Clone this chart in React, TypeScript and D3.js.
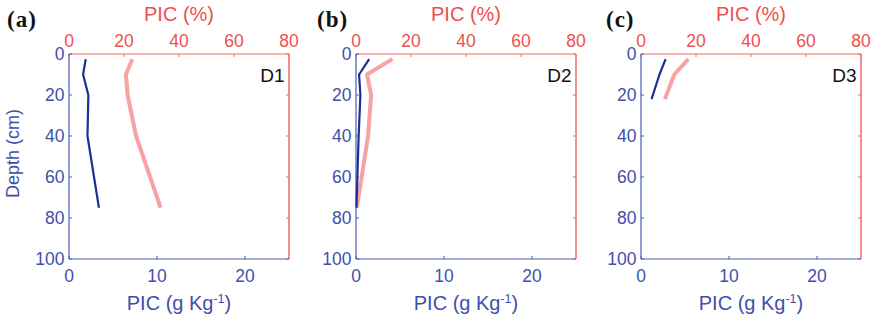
import React from "react";
import * as d3 from "d3";

const panelLabels = ["(a)", "(b)", "(c)"];
const siteLabels = ["D1", "D2", "D3"];

// depth (cm)
const depthsD1 = [2.5, 10, 20, 40, 75];
const depthsD2 = [2.5, 10, 20, 40, 75];
const depthsD3 = [2.5, 10, 22];

// PIC (g Kg-1) — bottom axis
const picGkgD1 = [1.9, 1.6, 2.2, 2.1, 3.4];
const picGkgD2 = [1.5, 0.35, 0.5, 0.3, 0.05];
const picGkgD3 = [2.8, 2.1, 1.2];

// PIC (%) — top axis
const picPctD1 = [23.0, 20.7, 21.3, 24.4, 33.3];
const picPctD2 = [13.2, 4.0, 5.5, 4.4, 0.3];
const picPctD3 = [17.2, 12.1, 8.7];

const bottomTicks = [0, 10, 20];
const topTicks = [0, 20, 40, 60, 80];
const depthTicks = [0, 20, 40, 60, 80, 100];

const panels = [
  { depth: depthsD1, gkg: picGkgD1, pct: picPctD1 },
  { depth: depthsD2, gkg: picGkgD2, pct: picPctD2 },
  { depth: depthsD3, gkg: picGkgD3, pct: picPctD3 },
];

const W = 874;
const H = 320;
const panelLeft = [69, 356, 641];
const labelLeft = [7, 317, 606];
const panelW = 220;
const top = 54;
const bottom = 259;

const BLUE_AXIS = "#4a5cb4";
const BLUE_TEXT = "#3f50ac";
const RED_AXIS = "#f26a6a";
const RED_TEXT = "#ee5050";
const BLUE_LINE = "#1c2f94";
const PINK_LINE = "#f6a3a3";
const FONT = "Liberation Sans, Arial, sans-serif";

export default function App() {
  const y = d3.scaleLinear().domain([0, 100]).range([top, bottom]);
  return (
    <svg width={W} height={H} style={{ position: "absolute", left: 0, top: 0, background: "#fff" }} fontFamily={FONT}>
      {panels.map((p, i) => {
        const x0 = panelLeft[i];
        const xb = d3.scaleLinear().domain([0, 25]).range([x0, x0 + panelW]);
        const xt = d3.scaleLinear().domain([0, 80]).range([x0, x0 + panelW]);
        const lineB = d3
          .line<number>()
          .x((_, k) => xb(p.gkg[k]))
          .y((dd) => y(dd));
        const lineT = d3
          .line<number>()
          .x((_, k) => xt(p.pct[k]))
          .y((dd) => y(dd));
        const cx = x0 + panelW / 2;
        return (
          <g key={i}>
            {/* panel label */}
            <text x={labelLeft[i]} y={26.5} fontFamily="Liberation Serif, Times New Roman, serif" fontWeight="bold" fontSize={23} letterSpacing={1} fill="#111">
              {panelLabels[i]}
            </text>
            {/* top title */}
            <text x={cx} y={20.5} textAnchor="middle" fontSize={20} fill={RED_TEXT}>
              PIC (%)
            </text>
            {/* top axis */}
            <line x1={x0} x2={x0 + panelW} y1={top} y2={top} stroke={RED_AXIS} strokeWidth={1.2} />
            <line x1={x0 + panelW} x2={x0 + panelW} y1={top} y2={bottom} stroke={RED_AXIS} strokeWidth={1.5} />
            {topTicks.map((t) => (
              <g key={"tt" + t}>
                <line x1={xt(t)} x2={xt(t)} y1={top} y2={top + 3} stroke={RED_AXIS} />
                <text x={xt(t)} y={46.5} textAnchor="middle" fontSize={17.5} fill={RED_TEXT}>
                  {t}
                </text>
              </g>
            ))}
            {depthTicks.map((t) => (
              <line key={"rt" + t} x1={x0 + panelW} x2={x0 + panelW - 3} y1={y(t)} y2={y(t)} stroke={RED_AXIS} />
            ))}
            {/* left & bottom axes */}
            <line x1={x0} x2={x0} y1={top} y2={bottom} stroke={BLUE_AXIS} strokeWidth={1.2} />
            <line x1={x0} x2={x0 + panelW} y1={bottom} y2={bottom} stroke={BLUE_AXIS} strokeWidth={1.2} />
            {depthTicks.map((t) => (
              <g key={"lt" + t}>
                <line x1={x0} x2={x0 + 3} y1={y(t)} y2={y(t)} stroke={BLUE_AXIS} />
                <text x={x0 - 4.5} y={y(t) + 6.2} textAnchor="end" fontSize={17.5} fill={BLUE_TEXT}>
                  {t}
                </text>
              </g>
            ))}
            {bottomTicks.map((t) => (
              <g key={"bt" + t}>
                <line x1={xb(t)} x2={xb(t)} y1={bottom} y2={bottom - 3} stroke={BLUE_AXIS} />
                <text x={xb(t)} y={282} textAnchor="middle" fontSize={17.5} fill={BLUE_TEXT}>
                  {t}
                </text>
              </g>
            ))}
            {/* bottom title */}
            <text x={cx} y={310} textAnchor="middle" fontSize={20} fill={BLUE_TEXT}>
              PIC (g Kg
              <tspan dy={-7} fontSize={12.5}>-1</tspan>
              <tspan dy={7}>)</tspan>
            </text>
            {/* depth label (first panel only) */}
            {i === 0 && (
              <text
                transform={`translate(19,${(top + bottom) / 2 - 3}) rotate(-90)`}
                textAnchor="middle"
                fontSize={18}
                fill={BLUE_TEXT}
              >
                Depth (cm)
              </text>
            )}
            {/* lines */}
            <path d={lineT(p.depth) || ""} fill="none" stroke={PINK_LINE} strokeWidth={4} strokeLinejoin="round" />
            <path d={lineB(p.depth) || ""} fill="none" stroke={BLUE_LINE} strokeWidth={2.2} strokeLinejoin="round" />
            {/* site label */}
            <text x={x0 + panelW - 4.5} y={81.5} textAnchor="end" fontSize={19} fill="#111">
              {siteLabels[i]}
            </text>
          </g>
        );
      })}
    </svg>
  );
}
